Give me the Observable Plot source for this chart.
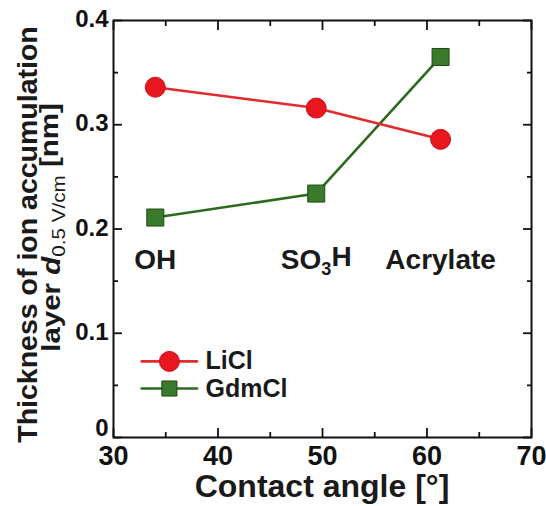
<!DOCTYPE html>
<html>
<head>
<meta charset="utf-8">
<script src="https://cdn.jsdelivr.net/npm/d3@7"></script>
<script src="https://cdn.jsdelivr.net/npm/@observablehq/plot@0.6"></script>
<style>
  html, body { margin: 0; padding: 0; background: #fff; }
  #chart svg { display: block; }
</style>
</head>
<body>
<div id="chart"></div>
<script>
const contactAngle = [34.0, 49.4, 61.3];
const liclThickness = [0.336, 0.316, 0.286];
const gdmclThickness = [0.211, 0.234, 0.365];
const surfaceLabels = ["OH", "SO3H", "Acrylate"];
const seriesNames = ["LiCl", "GdmCl"];
const xMajorTicks = [30, 40, 50, 60, 70];
const xMinorTicks = [35, 45, 55, 65];
const yMajorTicks = [0, 0.1, 0.2, 0.3, 0.4];
const yMinorTicks = [0.05, 0.15, 0.25, 0.35];

const FONT = "'Liberation Sans', Arial, Helvetica, sans-serif";
const RED = "#e8161f", RED_LINE = "#e22a2f";
const GREEN = "#3c7a2b", GREEN_LINE = "#2c6a1e", GREEN_EDGE = "#1f4a12";

const licl = contactAngle.map((x, i) => ({x, y: liclThickness[i]}));
const gdmcl = contactAngle.map((x, i) => ({x, y: gdmclThickness[i]}));
const labels = contactAngle.map((x, i) => ({x, label: surfaceLabels[i]}));

const legendLineX = [32.7, 38.0], legendMarkX = 35.35, legendTextX = 38.8;
const legendYs = [0.073, 0.047];

const tickOpts = (anchor, size) => ({anchor, tickSize: size, strokeWidth: 1.8, tickFormat: () => "", label: null});

const plot = Plot.plot({
  width: 546,
  height: 506,
  marginLeft: 113,
  marginRight: 15,
  marginTop: 20,
  marginBottom: 69,
  x: {domain: [30, 70]},
  y: {domain: [0, 0.4]},
  style: {fontFamily: FONT, background: "#fff", color: "#111"},
  marks: [
    // ticks (inward) on all four sides
    Plot.axisX(xMajorTicks, tickOpts("bottom", -9)),
    Plot.axisX(xMinorTicks, tickOpts("bottom", -5)),
    Plot.axisX(xMajorTicks, tickOpts("top", -9)),
    Plot.axisX(xMinorTicks, tickOpts("top", -5)),
    Plot.axisY(yMajorTicks, tickOpts("left", -9)),
    Plot.axisY(yMinorTicks, tickOpts("left", -5)),
    Plot.axisY(yMajorTicks, tickOpts("right", -9)),
    Plot.axisY(yMinorTicks, tickOpts("right", -5)),
    // tick labels
    Plot.axisX(xMajorTicks, {anchor: "bottom", tickSize: 0, tickPadding: 8, fontSize: 27, fontWeight: "bold", label: null, tickFormat: d => String(d)}),
    Plot.axisY(yMajorTicks, {anchor: "left", tickSize: 0, tickPadding: 5, dy: -1, fontSize: 24, fontWeight: "bold", label: null, tickFormat: d => String(d)}),
    Plot.frame({stroke: "#111", strokeWidth: 2}),
    // surface labels
    Plot.text(labels, {x: "x", y: () => 0.17, text: "label", fontSize: 28, fontWeight: "bold", fill: "#1a1a1a", textAnchor: "middle", lineAnchor: "middle"}),
    // series
    Plot.line(gdmcl, {x: "x", y: "y", stroke: GREEN_LINE, strokeWidth: 2.6}),
    Plot.line(licl, {x: "x", y: "y", stroke: RED_LINE, strokeWidth: 2.6}),
    Plot.dot(gdmcl, {x: "x", y: "y", symbol: "square", r: 9.6, fill: GREEN, stroke: GREEN_EDGE, strokeWidth: 1}),
    Plot.dot(licl, {x: "x", y: "y", r: 10, fill: RED, stroke: "#c8101a", strokeWidth: 1}),
    // legend
    Plot.line([{x: legendLineX[0], y: legendYs[0]}, {x: legendLineX[1], y: legendYs[0]}], {x: "x", y: "y", stroke: RED_LINE, strokeWidth: 2.6}),
    Plot.line([{x: legendLineX[0], y: legendYs[1]}, {x: legendLineX[1], y: legendYs[1]}], {x: "x", y: "y", stroke: GREEN_LINE, strokeWidth: 2.6}),
    Plot.dot([{x: legendMarkX, y: legendYs[0]}], {x: "x", y: "y", r: 10, fill: RED, stroke: "#c8101a", strokeWidth: 1}),
    Plot.dot([{x: legendMarkX, y: legendYs[1]}], {x: "x", y: "y", symbol: "square", r: 8.5, fill: GREEN, stroke: GREEN_EDGE, strokeWidth: 1}),
    Plot.text(seriesNames.map((n, i) => ({n, y: legendYs[i]})), {x: () => legendTextX, y: "y", text: "n", textAnchor: "start", lineAnchor: "middle", fontSize: 25, fontWeight: "bold", fill: "#1a1a1a"})
  ]
});

document.getElementById("chart").appendChild(plot);

const svg = d3.select(plot);

// subscript in SO3H
svg.selectAll("text").each(function() {
  if (this.textContent === "SO3H") {
    const t = d3.select(this);
    t.text(null);
    t.append("tspan").text("SO");
    t.append("tspan").attr("dy", "0.3em").attr("font-size", "0.65em").text("3");
    t.append("tspan").attr("dy", "-0.3em").text("H");
  }
});

// the "0" y label sits a little higher in the original, clear of the "30"
svg.selectAll("g[aria-label='y-axis tick label'] text").each(function() {
  if (this.textContent === "0") d3.select(this).attr("dy", "-8px");
});

// axis titles
svg.append("text")
  .attr("x", 322).attr("y", 497)
  .attr("text-anchor", "middle")
  .attr("font-family", FONT).attr("font-weight", "bold").attr("font-size", 32).attr("fill", "#1a1a1a")
  .text("Contact angle [°]");

svg.append("text")
  .attr("transform", "translate(37,234.5) rotate(-90)")
  .attr("text-anchor", "middle")
  .attr("font-family", FONT).attr("font-weight", "bold").attr("font-size", 28.5).attr("fill", "#1a1a1a")
  .text("Thickness of ion accumulation");

const t2 = svg.append("text")
  .attr("transform", "translate(60,227.5) rotate(-90) scale(1.18,1)")
  .attr("text-anchor", "middle")
  .attr("font-family", FONT).attr("font-weight", "bold").attr("font-size", 25).attr("fill", "#1a1a1a");
t2.append("tspan").text("layer ");
t2.append("tspan").attr("font-style", "italic").text("d");
t2.append("tspan").attr("dy", "0.3em").attr("font-size", "0.7em").attr("font-weight", "normal").text("0.5 V/cm");
t2.append("tspan").attr("dy", "-0.3em").text(" [nm]");
</script>
</body>
</html>
